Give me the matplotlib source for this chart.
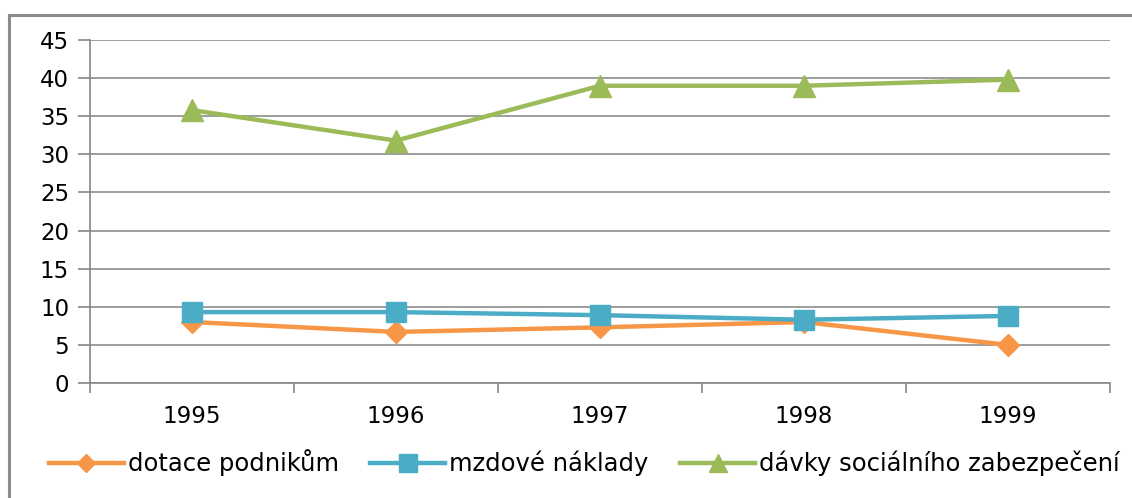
import numpy as np
import matplotlib
matplotlib.use('Agg')
from matplotlib import pyplot as plt
from matplotlib.lines import Line2D

years = ['1995', '1996', '1997', '1998', '1999']
dotace = [8.0, 6.7, 7.3, 8.0, 5.0]
mzdove = [9.3, 9.3, 8.9, 8.3, 8.8]
davky = [35.8, 31.8, 39.0, 39.0, 39.8]

labels = ['dotace podnikům', 'mzdové náklady', 'dávky sociálního zabezpečení']
colors = ['#F79646', '#4BACC6', '#9BBB59']

plt.rcParams['font.family'] = ['DejaVu Sans']

fig = plt.figure(figsize=(11.32, 4.98), dpi=100)
ax = fig.add_axes([90 / 1132, 1 - 383 / 498, 1020 / 1132, 343 / 498])

# gray frame of the chart (only top and left edges are visible, rest is cut off)
W, H = 1132, 498
fig.lines.append(Line2D([9 / W, 1], [1 - 15 / H, 1 - 15 / H], transform=fig.transFigure,
                        color='#8C8C8C', lw=2.2))
fig.lines.append(Line2D([9 / W, 9 / W], [0, 1 - 15 / H], transform=fig.transFigure,
                        color='#8C8C8C', lw=2.2))

x = np.arange(len(years))
ax.plot(x, dotace, color=colors[0], lw=3.2, marker='D', ms=11, label=labels[0])
ax.plot(x, mzdove, color=colors[1], lw=3.2, marker='s', ms=15, label=labels[1])
ax.plot(x, davky, color=colors[2], lw=3.2, marker='^', ms=16, label=labels[2])

ax.set_xlim(-0.5, 4.5)
ax.set_ylim(0, 45)
ax.set_yticks(range(0, 46, 5))
ax.set_xticks(x)
ax.set_xticklabels(years)
ax.set_xticks(np.arange(-0.5, 4.6, 1), minor=True)
ax.tick_params(axis='x', which='major', length=0, pad=16, labelsize=16.5)
ax.tick_params(axis='x', which='minor', length=7, color='#868686', width=1.2)
ax.tick_params(axis='y', length=9, color='#868686', width=1.2, labelsize=16.5, pad=6)
ax.yaxis.grid(True, color='#8C8C8C', lw=1.2)
ax.set_axisbelow(True)
for s in ['top', 'right']:
    ax.spines[s].set_visible(False)
for s in ['left', 'bottom']:
    ax.spines[s].set_color('#868686')
    ax.spines[s].set_linewidth(1.2)

fig.legend(loc='center', bbox_to_anchor=(0.516, 1 - 463 / 498), ncol=3,
           frameon=False, fontsize=17.5, handlelength=3.1, handletextpad=0.15,
           columnspacing=1.3, markerscale=0.85)

fig.savefig('out.png', dpi=100)
